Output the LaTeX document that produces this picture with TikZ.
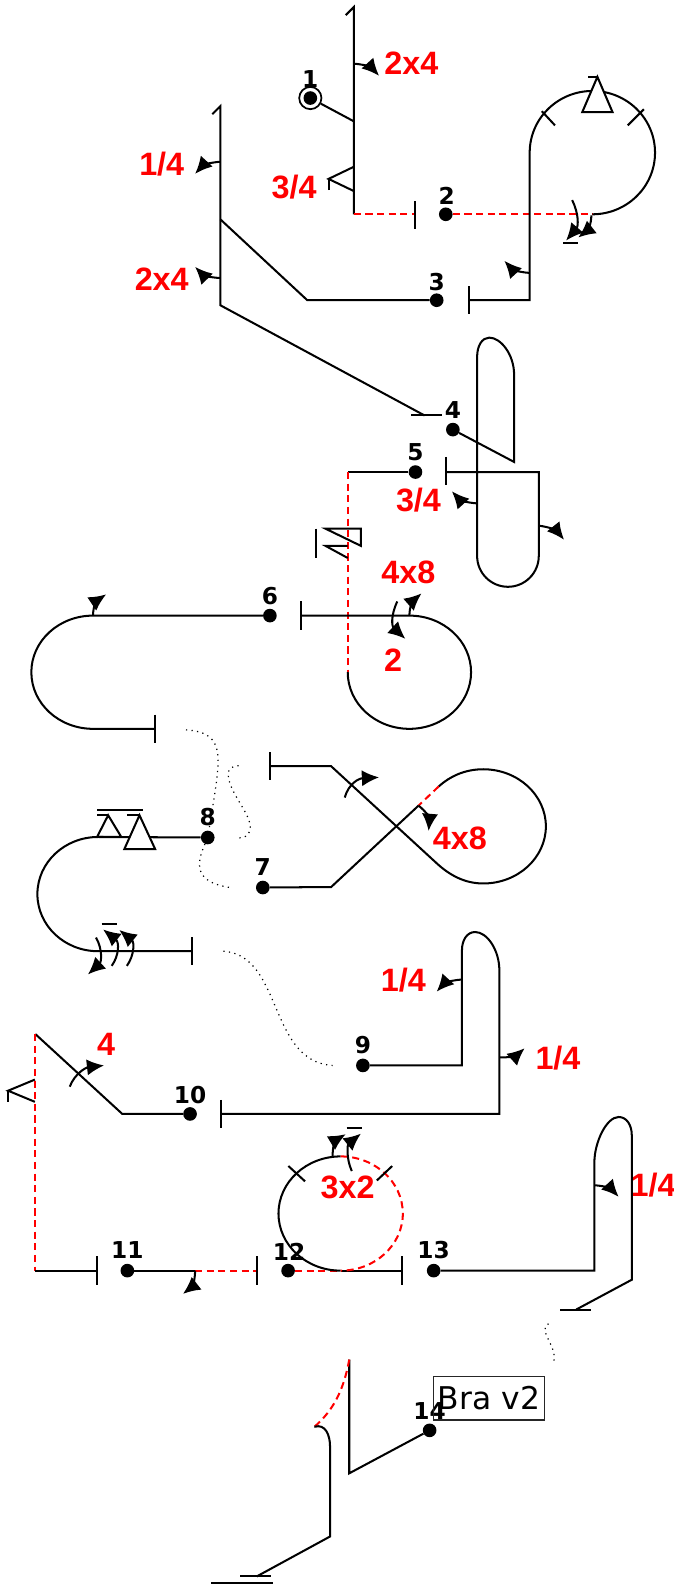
\documentclass[tikz,border=0pt]{standalone}
\usepackage{fontspec}
\setmainfont{DejaVu Sans}
\newfontfamily\redfont{Liberation Sans}[BoldFont={Liberation Sans Bold}]
\usetikzlibrary{arrows.meta}
\tikzset{
 wire/.style={black,line width=2pt,line join=miter},
 redwire/.style={red,line width=2pt,dash pattern=on 7pt off 4.5pt},
 dotwire/.style={black,line width=1.2pt,dash pattern=on 1.2pt off 4.3pt},
 arr/.style={black,line width=2pt,-{Latex[length=17pt,width=16pt]}},
 dotn/.style={circle,fill=black,inner sep=0pt,minimum size=13.5pt},
 ringn/.style={circle,draw=black,line width=1.7pt,inner sep=0pt,minimum size=22pt},
 numl/.style={font=\fontsize{23}{23}\selectfont\bfseries,black,inner sep=0pt},
 redl/.style={font=\redfont\fontsize{32}{32}\selectfont\bfseries,red,inner sep=0pt},
 brabox/.style={draw=black!85,line width=1.2pt,minimum width=110pt,minimum height=43pt,inner sep=0pt,font=\fontsize{31}{31}\selectfont},
}
\begin{document}
\begin{tikzpicture}[x=1pt,y=-1pt]
\useasboundingbox (0,0) rectangle (666,1568);
% nodes
\node[ringn] (r1) at (307,97) {};
\node[dotn] (n1) at (307,97) {};
\node[dotn] (n2) at (441,212) {};
\node[dotn] (n3) at (432,297) {};
\node[dotn] (n4) at (448,425) {};
\node[dotn] (n5) at (411,467) {};
\node[dotn] (n6) at (267,609) {};
\node[dotn] (n7) at (260,878) {};
\node[dotn] (n8) at (205.5,828.5) {};
\node[dotn] (n9) at (359,1054) {};
\node[dotn] (n10) at (188,1102) {};
\node[dotn] (n11) at (126,1257) {};
\node[dotn] (n12) at (285,1257) {};
\node[dotn] (n13) at (429,1257) {};
\node[dotn] (n14) at (425,1415) {};
\foreach \n/\t/\x/\y in {a/1/307/78,b/2/442/194,c/3/432/279,d/4/448/406,e/5/411/447,f/6/267/590,g/7/260/858,h/8/205.5/808,i/9/359/1034,j/10/188/1083,k/11/126/1237,l/12/286/1238,m/13/429/1237,o/14/425/1396}
 \node[numl] (lab\n) at (\x,\y) {\t};
\node[brabox] (bra) at (483.7,1383.3) {Bra v2};
\foreach \n/\t/\x/\y in {ra/2x4/407/63,rb/1\slash 4/160/162,rc/3\slash 4/291/185,rd/2x4/160/276,re/3\slash 4/414/495,rf/4x8/404/566,rg/2/389/653,rh/4x8/455/829,ri/1\slash 4/399/970,rj/1\slash 4/552/1047,rk/4/105/1033,rl/3x2/344/1175,rm/1\slash 4/646/1172}
 \node[redl] (\n) at (\x,\y) {\t};
% coordinates
\coordinate (a0) at (342,15); \coordinate (a1) at (350,7); \coordinate (a2) at (350,212);
\coordinate (a3) at (350,120); \coordinate (t2a) at (411,199); \coordinate (t2b) at (411,227);
\coordinate (t2c) at (411,212);
% group 1
\draw[wire] (a0) -- (a1) -- (a2);
\draw[wire] (r1) -- (a3);
\draw[redwire] (a2) -- (t2c);
\draw[wire] (t2a) -- (t2b);
\draw[wire] (350,165) -- (325,177) -- (350,189);
\draw[wire] (325,188) -- (325,177);
\draw[arr] (350,63) to[bend left=22] (375,75);
% loop 2-3
\coordinate (l1) at (586,212);
\coordinate (l2) at (524,297);
\coordinate (t3) at (464,297);
\draw[redwire] (n2) -- (l1);
\draw[wire] (l1) arc[start angle=-90,end angle=180,x radius=62pt,y radius=61pt] -- (l2) -- (t3);
\draw[wire] (464,283) -- (464,311);
\draw[wire,fill=white] (591,76) -- (576,111) -- (606,111) -- cycle;
\draw[wire] (582,76) -- (591,76);
\draw[wire] (536,110) -- (549,124);
\draw[wire] (621,124) -- (637,108);
\draw[arr] (566,198) .. controls (573,212) and (572,224) .. (560,238);
\draw[arr] (585,213) .. controls (585,222) and (581,228) .. (572,235);
\draw[wire] (557,240) -- (572,240);
\draw[arr] (524,270) to[bend left=22] (499,258);
% group B
\coordinate (b0) at (210,113); \coordinate (b1) at (218,105); \coordinate (b2) at (218,302);
\coordinate (b3) at (218,217); \coordinate (b4) at (304,297); \coordinate (b5) at (420,411);
\draw[wire] (b0) -- (b1) -- (b2) -- (b5);
\draw[wire] (b3) -- (b4) -- (n3);
\draw[wire] (407,411) -- (437,411);
\draw[arr] (218,160) to[bend right=22] (193,172);
\draw[arr] (218,275) to[bend left=22] (193,264);
% loop 4-5
\coordinate (c1) at (508.6,457);
\coordinate (c2) at (533,467);
\coordinate (t5) at (441,467);
\draw[wire] (n4) -- (c1) -- (508.6,371) .. controls (508.6,350) and (495,334) .. (484,334) .. controls (477,334) and (472,342) .. (472,353) -- (472,550) arc[start angle=180,end angle=360,radius=30.5pt] -- (c2) -- (t5);
\draw[wire] (441,452) -- (441,480);
\draw[arr] (472,498) to[bend left=22] (447,486);
\draw[arr] (533,520) to[bend left=22] (558,534);
% 5 - 6
\coordinate (d1) at (344,467); \coordinate (d2) at (344,665);
\draw[wire] (n5) -- (d1);
\draw[redwire] (d1) -- (d2);
\draw[wire] (d2) arc[start angle=180,end angle=450,x radius=61pt,y radius=56pt] -- (298,609);
\draw[wire] (298,595) -- (298,623);
\draw[wire] (313,523) -- (313,552);
\draw[wire] (344,523) -- (322,523) -- (357,540) -- (357,523) -- (344,523);
\draw[wire] (344,540) -- (322,540) -- (344,552);
\draw[arr] (405,609) .. controls (405,600) and (409,594) .. (417,587);
\draw[arr] (393,595) .. controls (386,610) and (388,620) .. (401,632);
% 6 loop
\coordinate (e1) at (92,609); \coordinate (e2) at (153,721);
\draw[wire] (n6) -- (e1) arc[start angle=90,end angle=270,x radius=61pt,y radius=56pt] -- (e2);
\draw[wire] (153,707) -- (153,735);
\draw[arr] (92,609) .. controls (92,600) and (96,594) .. (105,588);
% dotted
\coordinate (f1) at (184,722);
\draw[dotwire] (f1) .. controls (226,725) and (218,750) .. (n8);
\draw[dotwire] (n8) .. controls (194,855) and (192,873) .. (228,878);
\draw[dotwire] (236,757.5) .. controls (222,758) and (224,770) .. (232,785) .. controls (240,800) and (250,812) .. (247,822) .. controls (246,827) and (241,829) .. (236,829);
\draw[dotwire] (221,941) .. controls (280,945) and (265,1050) .. (329,1054);
\draw[dotwire] (542.7,1309.6) .. controls (530,1315) and (555,1335) .. (546.6,1350);
% 7 cross
\coordinate (g0) at (267,758); \coordinate (g1) at (327.6,758); \coordinate (g2) at (432,854);
\coordinate (g3) at (434,778); \coordinate (g4) at (414,797); \coordinate (g5) at (327.6,877.5);
\draw[wire] (267,744) -- (267,772);
\draw[wire] (g0) -- (g1) -- (g2) .. controls (445,866) and (460,874) .. (478,874) arc[start angle=-90,end angle=90,x radius=62pt,y radius=56.5pt] .. controls (460,761) and (445,768) .. (g3);
\draw[redwire] (g3) -- (g4);
\draw[wire] (g4) -- (g5) -- (n7);
\draw[arr] (341,789) .. controls (345,775) and (355,770) .. (375,769);
\draw[arr] (414,797) .. controls (421,802) and (425,810) .. (424,822);
% 8 loop
\coordinate (h1) at (97,828); \coordinate (h2) at (190,941);
\draw[wire] (n8) -- (h1) arc[start angle=90,end angle=270,x radius=60pt,y radius=56.5pt] -- (h2);
\draw[wire] (190,927) -- (190,955);
\draw[wire] (107,806.5) -- (96,828) -- (120,828) -- cycle;
\draw[wire,fill=white] (138,806.5) -- (123,840) -- (153.5,840) -- cycle;
\draw[wire] (96,806.5) -- (107,806.5);
\draw[wire] (126,806.5) -- (138,806.5);
\draw[wire] (96,801.5) -- (141,801.5);
\draw[arr] (95,927.5) .. controls (102,940) and (100,952) .. (87,964);
\draw[arr] (110.5,955.5) .. controls (118,945) and (118,932) .. (102,919.5);
\draw[arr] (125.5,955.5) .. controls (133,945) and (133,932) .. (118,920);
\draw[wire] (100.5,914.5) -- (115.5,914.5);
% 9-10
\coordinate (i1) at (457,1054); \coordinate (i2) at (494,1102); \coordinate (i3) at (219,1102);
\draw[wire] (n9) -- (i1) -- (457,940) .. controls (457,930) and (462,922) .. (470,922) .. controls (482,922) and (494,940) .. (494,960) -- (i2) -- (i3);
\draw[wire] (219,1088) -- (219,1116);
\draw[arr] (457,969) to[bend right=22] (432,981);
\draw[arr] (494,1046) to[bend right=22] (519,1037);
% 10-11
\coordinate (j1) at (121,1102); \coordinate (j2) at (35,1023); \coordinate (j3) at (35,1257); \coordinate (j4) at (96,1257);
\draw[wire] (n10) -- (j1) -- (j2);
\draw[redwire] (j2) -- (j3);
\draw[wire] (j3) -- (j4);
\draw[wire] (96,1243) -- (96,1271);
\draw[wire] (34.5,1068) -- (8,1079) -- (34.5,1090);
\draw[wire] (8,1079) -- (8,1090);
\draw[arr] (69,1075) .. controls (74,1062) and (85,1056) .. (103,1054);
% 11-12
\coordinate (k1) at (193,1257); \coordinate (k2) at (254,1257);
\draw[wire] (n11) -- (k1);
\draw[redwire] (k1) -- (k2);
\draw[wire] (254,1243) -- (254,1271);
\draw[arr] (193,1257) .. controls (193,1266) and (190,1273) .. (181,1280);
% 12 circle
\coordinate (l3) at (337,1257); \coordinate (l4) at (398,1257); \coordinate (l5) at (337,1144);
\draw[redwire] (n12) -- (l3);
\draw[wire] (l3) -- (l4);
\draw[wire] (398,1243) -- (398,1271);
\draw[wire] (l3) arc[start angle=-90,end angle=-270,x radius=61.5pt,y radius=56.5pt];
\draw[redwire] (l5) arc[start angle=90,end angle=-90,x radius=61.5pt,y radius=56.5pt];
\draw[wire] (285.3,1153.5) -- (301.8,1168.7);
\draw[wire] (388,1153.5) -- (372.8,1167.8);
\draw[arr] (329,1144) .. controls (329,1134) and (332,1128) .. (342,1122);
\draw[arr] (348,1158.5) .. controls (342,1145) and (344,1132) .. (357,1121.5);
\draw[wire] (343,1116) -- (358.5,1116);
% 13
\coordinate (m1) at (588,1257); \coordinate (m2) at (625,1266); \coordinate (m3) at (570,1295.5);
\draw[wire] (n13) -- (m1) -- (588,1150) .. controls (588,1130) and (600,1105) .. (612,1105) .. controls (620,1105) and (625,1113) .. (625,1123) -- (m2) -- (m3);
\draw[wire] (554,1295.5) -- (585,1295.5);
\draw[arr] (588,1172.5) to[bend left=22] (612,1184);
% 14
\coordinate (o1) at (345.5,1457.5); \coordinate (o2) at (345.5,1345); \coordinate (o3) at (311,1411.5);
\coordinate (o4) at (326.5,1520); \coordinate (o5) at (254,1559.5);
\draw[wire] (n14) -- (o1) -- (o2);
\draw[redwire] (o2) .. controls (340,1375) and (330,1395) .. (o3);
\draw[wire] (o3) .. controls (322,1408) and (326.5,1420) .. (326.5,1431) -- (o4) -- (o5);
\draw[wire] (237.5,1559.5) -- (268,1559.5);
\draw[wire] (209,1566) -- (270,1566);
\end{tikzpicture}
\end{document}
